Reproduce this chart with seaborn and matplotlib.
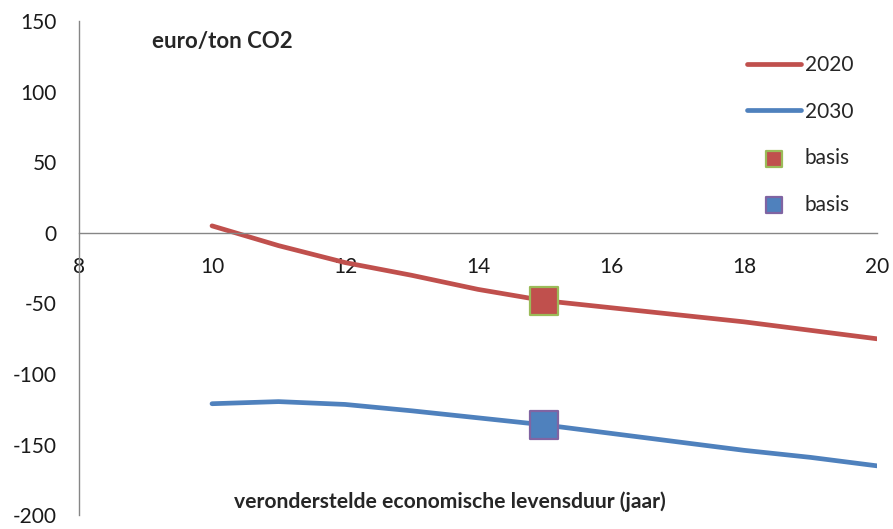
import matplotlib.pyplot as plt
import seaborn as sns

# values
lifetime = [10, 11, 12, 13, 14, 15, 16, 17, 18, 19, 20]
cost_2020 = [5, -9, -21, -30, -40, -48, -53, -58, -63, -69, -75]
cost_2030 = [-121, -119.5, -121.5, -126, -131, -136, -142, -148, -154, -159, -165]
basis_x = [15]
basis_2020 = [-48]
basis_2030 = [-136]
x_ticks = [8, 10, 12, 14, 16, 18, 20]
y_ticks = [-200, -150, -100, -50, 0, 50, 100, 150]

sns.set_style("white")
plt.rcParams["font.family"] = ["Lato", "DejaVu Sans"]
plt.rcParams["axes.unicode_minus"] = False

red = "#C0504D"
blue = "#4F81BD"
grey = "#868686"

fig = plt.figure(figsize=(8.93, 5.29), dpi=100)
ax = fig.add_axes([0.0885, 0.026, 0.8935, 0.934])

sns.lineplot(x=lifetime, y=cost_2020, color=red, linewidth=3.4, label="2020",
             solid_capstyle="round", ax=ax)
sns.lineplot(x=lifetime, y=cost_2030, color=blue, linewidth=3.4, label="2030",
             solid_capstyle="round", ax=ax)
sns.scatterplot(x=basis_x, y=basis_2020, marker="s", s=380, color=red,
                edgecolor="#9BBB59", linewidth=1.6, label="basis", ax=ax, zorder=5)
sns.scatterplot(x=basis_x, y=basis_2030, marker="s", s=380, color=blue,
                edgecolor="#8064A2", linewidth=1.6, label="basis", ax=ax, zorder=5)

ax.set_xlim(8, 20)
ax.set_ylim(-200, 150)
ax.set_xticks(x_ticks)
ax.set_yticks(y_ticks)

for s in ["top", "right"]:
    ax.spines[s].set_visible(False)
ax.spines["bottom"].set_position(("data", 0))
for s in ["left", "bottom"]:
    ax.spines[s].set_color(grey)
    ax.spines[s].set_linewidth(1)

ax.tick_params(axis="both", direction="out", length=5, width=1, color=grey,
               labelsize=15, labelcolor="#1a1a1a")
ax.tick_params(axis="x", pad=12)
ax.tick_params(axis="y", pad=11)

ax.set_xlabel("")
ax.set_ylabel("")
fig.text(0.170, 0.921, "euro/ton CO2", fontsize=16, fontweight="bold", va="center")
fig.text(0.504, 0.052, "veronderstelde economische levensduur (jaar)", fontsize=15.2,
         fontweight="bold", ha="center", va="center")

ax.legend(loc="upper left", bbox_to_anchor=(0.827, 0.948), frameon=False,
          fontsize=15, labelspacing=1.27, handlelength=2.6, handletextpad=0.15,
          markerscale=0.58, borderaxespad=0)

fig.savefig("out.png", dpi=100)
